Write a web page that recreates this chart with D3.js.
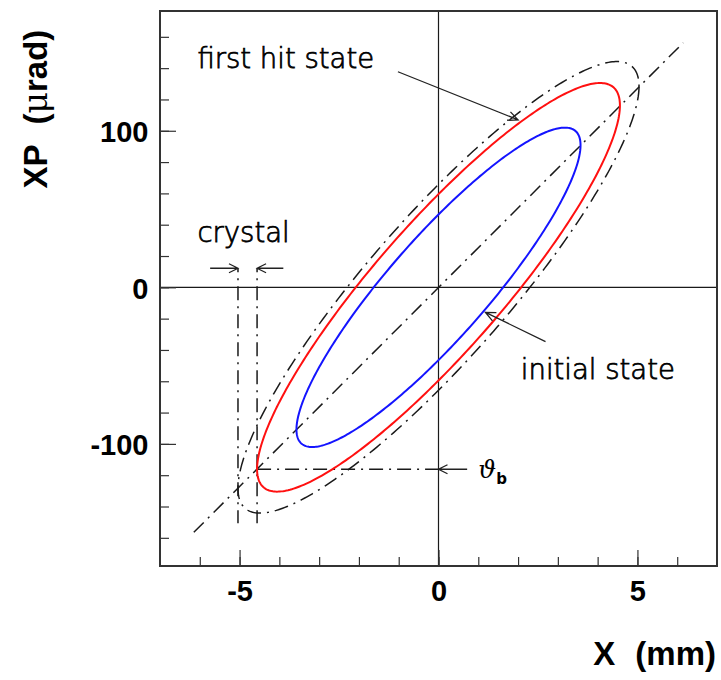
<!DOCTYPE html>
<html>
<head>
<meta charset="utf-8">
<script src="https://cdn.jsdelivr.net/npm/d3@7"></script>
<style>
  html, body { margin: 0; padding: 0; background: #fff; }
  svg { display: block; }
</style>
</head>
<body>
<svg id="chart" width="721" height="680"></svg>
<script>
// Phase-space ellipses: x = A cos t, xp = B cos(t + phase)
const ellipseNames = ["initial state", "first hit state", "outer envelope"];
const xAmplitude  = [3.57, 4.56, 5.04];     // mm
const xpAmplitude = [102, 130.5, 144.2];    // µrad
const phaseShift  = [0.4735, 0.4735, 0.4735];

// Axis ranges and ticks
const xDomain = [-7, 7];
const yDomain = [-178, 176.5];
const xMajorTicks = [-5, 0, 5];
const xTickLabels = ["-5", "0", "5"];
const xMinorTicks = [-6, -5, -4, -3, -2, -1, 0, 1, 2, 3, 4, 5, 6];
const yMajorTicks = [-100, 0, 100];
const yTickLabels = ["-100", "0", "100"];
const yMinorTicks = [-160, -140, -120, -100, -80, -60, -40, -20, 0, 20, 40, 60, 80, 100, 120, 140, 160];

// Reference lines
const diagonalX  = [-6.15, 6.15];
const diagonalXP = [-156.5, 156.2];
const crystalEdges = [-5.04, -4.56];
const crystalLineXP = [12.2, -150.7];
const bendAngleXP = -116.2;

// Annotation anchors (data units)
const firstHitLabel = [-6.06, 139.8];
const firstHitArrow = [[-1.02, 137.7], [2.0, 107]];
const initialLabel = [2.07, -58.6];
const initialArrow = [[2.69, -34.7], [1.18, -16]];
const crystalLabel = [-6.06, 29.2];
const crystalArrowLeft = [[-5.74, 12.2], [-5.04, 12.2]];
const crystalArrowRight = [[-3.9, 12.2], [-4.56, 12.2]];
const thetaLabel = [1.0, -121.5];
const thetaArrow = [[0.72, bendAngleXP], [0, bendAngleXP]];

const svg = d3.select("#chart");
const frame = { left: 160, right: 717, top: 11, bottom: 566 };

const x = d3.scaleLinear().domain(xDomain).range([frame.left, frame.right]);
const y = d3.scaleLinear().domain(yDomain).range([frame.bottom, frame.top]);

const ink = "#1a1a1a";
const dashDot = "14,6,2,6";
const annFont = "'DejaVu Sans', sans-serif";

// zero lines
svg.append("line").attr("x1", x(0)).attr("x2", x(0))
  .attr("y1", frame.top).attr("y2", frame.bottom)
  .attr("stroke", ink).attr("stroke-width", 1.2);
svg.append("line").attr("x1", frame.left).attr("x2", frame.right)
  .attr("y1", y(0)).attr("y2", y(0))
  .attr("stroke", ink).attr("stroke-width", 1.2);

// axes
function styleAxis(g) {
  g.select(".domain").remove();
  g.selectAll(".tick line").attr("stroke", "#333").attr("stroke-width", 1.2);
}
svg.append("g").attr("transform", `translate(0,${frame.bottom})`)
  .call(d3.axisBottom(x).tickValues(xMinorTicks).tickSizeInner(-9).tickSizeOuter(0).tickFormat(""))
  .call(styleAxis);
svg.append("g").attr("transform", `translate(0,${frame.bottom})`)
  .call(d3.axisBottom(x).tickValues(xMajorTicks).tickSizeInner(-16).tickSizeOuter(0).tickPadding(14.5)
    .tickFormat((d, i) => xTickLabels[i]))
  .call(styleAxis)
  .call(g => g.selectAll("text").attr("font-family", "'Liberation Sans', Arial, sans-serif")
    .attr("font-weight", "bold").attr("font-size", 29).attr("fill", "#000"));
svg.append("g").attr("transform", `translate(${frame.left},0)`)
  .call(d3.axisLeft(y).tickValues(yMinorTicks).tickSizeInner(-9).tickSizeOuter(0).tickFormat(""))
  .call(styleAxis);
svg.append("g").attr("transform", `translate(${frame.left},0)`)
  .call(d3.axisLeft(y).tickValues(yMajorTicks).tickSizeInner(-16).tickSizeOuter(0).tickPadding(11.5)
    .tickFormat((d, i) => yTickLabels[i]))
  .call(styleAxis)
  .call(g => g.selectAll("text").attr("font-family", "'Liberation Sans', Arial, sans-serif")
    .attr("font-weight", "bold").attr("font-size", 29).attr("fill", "#000").attr("dy", "0.38em"));

// frame
svg.append("rect").attr("x", frame.left).attr("y", frame.top)
  .attr("width", frame.right - frame.left).attr("height", frame.bottom - frame.top)
  .attr("fill", "none").attr("stroke", "#333").attr("stroke-width", 2);

// diagonal reference line
svg.append("line")
  .attr("x1", x(diagonalX[0])).attr("y1", y(diagonalXP[0]))
  .attr("x2", x(diagonalX[1])).attr("y2", y(diagonalXP[1]))
  .attr("stroke", ink).attr("stroke-width", 1.5).attr("stroke-dasharray", dashDot);

// crystal edges
crystalEdges.forEach(cx => {
  svg.append("line")
    .attr("x1", x(cx)).attr("x2", x(cx))
    .attr("y1", y(crystalLineXP[0])).attr("y2", y(crystalLineXP[1]))
    .attr("stroke", ink).attr("stroke-width", 1.5)
    .attr("stroke-dasharray", dashDot).attr("stroke-dashoffset", 10);
});

// bend angle line
svg.append("line")
  .attr("x1", x(crystalEdges[1])).attr("x2", x(0))
  .attr("y1", y(bendAngleXP)).attr("y2", y(bendAngleXP))
  .attr("stroke", ink).attr("stroke-width", 1.5).attr("stroke-dasharray", dashDot);

// ellipses
const tSamples = d3.range(0, 361).map(i => i * Math.PI / 180);
const curve = d3.line().x(d => x(d[0])).y(d => y(d[1]));
const ellipseStyles = [
  { stroke: "#1414ff", width: 2, dash: null },
  { stroke: "#ff1010", width: 2, dash: null },
  { stroke: ink, width: 1.5, dash: dashDot }
];
ellipseNames.forEach((name, k) => {
  const pts = tSamples.map(t => [xAmplitude[k] * Math.cos(t), xpAmplitude[k] * Math.cos(t + phaseShift[k])]);
  const p = svg.append("path").datum(pts)
    .attr("class", "ellipse")
    .attr("d", curve)
    .attr("fill", "none")
    .attr("stroke", ellipseStyles[k].stroke)
    .attr("stroke-width", ellipseStyles[k].width);
  if (ellipseStyles[k].dash) p.attr("stroke-dasharray", ellipseStyles[k].dash);
});

// arrows with open heads
function arrow(seg, headLen = 10, headHalf = 4.5) {
  const [a, b] = seg;
  const x1 = x(a[0]), y1 = y(a[1]), x2 = x(b[0]), y2 = y(b[1]);
  const dx = x2 - x1, dy = y2 - y1, L = Math.hypot(dx, dy);
  const ux = dx / L, uy = dy / L;
  const bx = x2 - ux * headLen, by = y2 - uy * headLen;
  const px = -uy * headHalf, py = ux * headHalf;
  svg.append("path")
    .attr("d", `M${x1},${y1}L${x2},${y2}M${bx + px},${by + py}L${x2},${y2}L${bx - px},${by - py}`)
    .attr("fill", "none").attr("stroke", "#222").attr("stroke-width", 1.3);
}
arrow(firstHitArrow);
arrow(initialArrow);
arrow(crystalArrowLeft, 9, 4.5);
arrow(crystalArrowRight, 9, 4.5);
arrow(thetaArrow, 9, 4.5);

// annotation labels (light face, thickened slightly with an outline)
function label(pos, txt) {
  return svg.append("text").attr("x", x(pos[0])).attr("y", y(pos[1]))
    .attr("font-family", annFont).attr("font-size", 27.5).attr("font-weight", 200)
    .attr("fill", "#000").attr("stroke", "#000").attr("stroke-width", 0.75)
    .text(txt);
}
label(firstHitLabel, "first hit state");
label(initialLabel, "initial state");
label(crystalLabel, "crystal");
const th = svg.append("text").attr("x", x(thetaLabel[0])).attr("y", y(thetaLabel[1]))
  .attr("font-family", "'DejaVu Serif', serif").attr("font-style", "italic")
  .attr("font-size", 25).attr("fill", "#000");
th.append("tspan").text("ϑ");
th.append("tspan").attr("dy", 6).attr("font-family", annFont).attr("font-style", "normal")
  .attr("font-weight", "bold").attr("font-size", 15).text("b");

// axis titles
const titleFont = "'Liberation Sans', Arial, sans-serif";
const xt = svg.append("text").attr("x", 716).attr("y", 665).attr("text-anchor", "end")
  .attr("font-family", titleFont).attr("font-weight", "bold").attr("font-size", 33).attr("fill", "#000");
xt.append("tspan").text("X");
xt.append("tspan").attr("dx", 20).text("(mm)");

const yt = svg.append("text").attr("transform", "translate(46.5,188.5) rotate(-90)")
  .attr("font-family", titleFont).attr("font-weight", "bold").attr("font-size", 33).attr("fill", "#000");
yt.append("tspan").text("XP");
yt.append("tspan").attr("dx", 20).text("(");
yt.append("tspan").attr("font-family", "'DejaVu Serif', serif").attr("font-weight", "normal").text("μ");
yt.append("tspan").text("rad)");
</script>
</body>
</html>
